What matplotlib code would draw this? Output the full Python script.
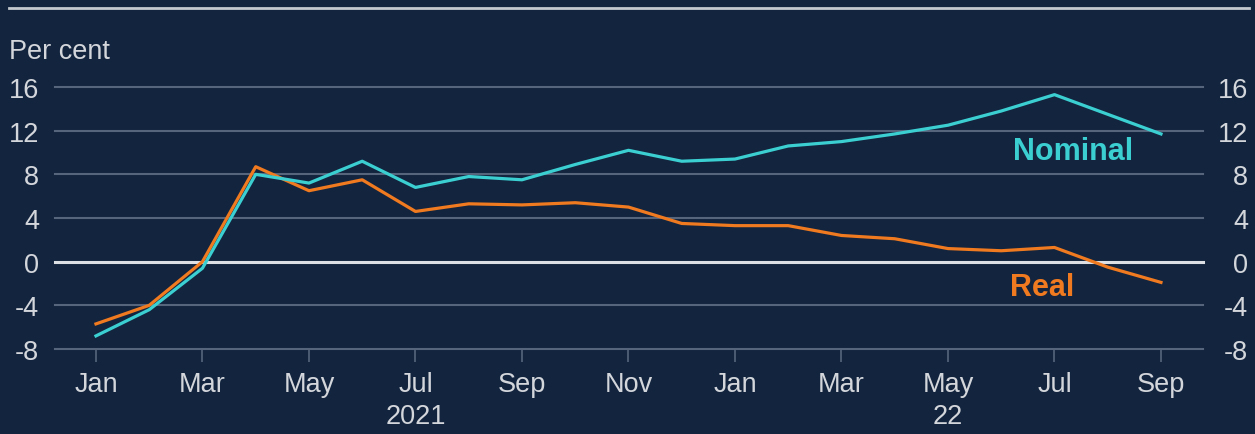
import numpy as np
import matplotlib.pyplot as plt
from matplotlib.lines import Line2D

# Dados mensais, jan 2021 a set 2022
meses = ['Jan', 'Feb', 'Mar', 'Apr', 'May', 'Jun', 'Jul', 'Aug', 'Sep', 'Oct', 'Nov', 'Dec',
         'Jan', 'Feb', 'Mar', 'Apr', 'May', 'Jun', 'Jul', 'Aug', 'Sep']
nominal = [-6.8, -4.4, -0.6, 8.0, 7.2, 9.2, 6.8, 7.8, 7.5, 8.9, 10.2, 9.2,
           9.4, 10.6, 11.0, 11.7, 12.5, 13.8, 15.3, 13.5, 11.7]
real = [-5.7, -4.0, 0.0, 8.7, 6.5, 7.5, 4.6, 5.3, 5.2, 5.4, 5.0, 3.5,
        3.3, 3.3, 2.4, 2.1, 1.2, 1.0, 1.3, -0.5, -1.9]
yticks = [-8, -4, 0, 4, 8, 12, 16]

bg = '#13243e'
grid_c = '#56657b'
txt_c = '#d3d6db'
cyan = '#3bcfd2'
orange = '#f07a1f'

plt.rcParams['font.family'] = ['Liberation Sans', 'DejaVu Sans']
plt.rcParams['axes.unicode_minus'] = False

fs = 19.5
x = np.arange(len(meses))

fig = plt.figure(figsize=(12.55, 4.35), dpi=100, facecolor=bg)
ax = fig.add_axes([0.0438, 0.1954, 0.9148, 0.6023])
ax.set_facecolor(bg)

for y in yticks:
    if y == 0:
        ax.axhline(y, color='#dcdfe3', linewidth=2.2, zorder=1, clip_on=False)
    else:
        ax.axhline(y, color=grid_c, linewidth=1.5, zorder=1, clip_on=False)

ax.plot(x, real, color=orange, linewidth=2.3, zorder=3, clip_on=False)
ax.plot(x, nominal, color=cyan, linewidth=2.3, zorder=4, clip_on=False)

ax.set_xlim(-0.77, 20.79)
ax.set_ylim(-8, 16)

for s in ax.spines.values():
    s.set_visible(False)

ax.set_xticks(x[::2])
ax.set_xticklabels(meses[::2])
ax.tick_params(axis='x', colors=grid_c, length=9.5, width=1.2, labelcolor=txt_c,
               labelsize=fs, pad=6)
ax.set_yticks(yticks)
ax.tick_params(axis='y', length=0, labelcolor=txt_c, labelsize=fs, pad=11.5)

ax2 = ax.twinx()
ax2.set_ylim(-8, 16)
ax2.set_yticks(yticks)
for s in ax2.spines.values():
    s.set_visible(False)
ax2.tick_params(axis='y', length=0, labelcolor=txt_c, labelsize=fs, pad=32.4)
for lab in ax2.get_yticklabels():
    lab.set_horizontalalignment('right')

# Rótulos dos anos
ax.text(6, -0.256, '2021', transform=ax.get_xaxis_transform(), ha='center', va='center',
        color=txt_c, fontsize=fs)
ax.text(16, -0.256, '22', transform=ax.get_xaxis_transform(), ha='center', va='center',
        color=txt_c, fontsize=fs)

# Rótulos das séries
ax.text(17.22, 10.1, 'Nominal', color=cyan, fontsize=22, fontweight='bold', va='center', ha='left')
ax.text(17.16, -2.3, 'Real', color=orange, fontsize=22, fontweight='bold', va='center', ha='left')

fig.text(9 / 1255, 1 - 52 / 435, 'Per cent', color=txt_c, fontsize=fs, va='center', ha='left')

fig.add_artist(Line2D([9 / 1255, 1249 / 1255], [1 - 9 / 435, 1 - 9 / 435],
                      transform=fig.transFigure, color='#c5c9cf', linewidth=2))

fig.savefig('out.png', dpi=100, facecolor=bg)
